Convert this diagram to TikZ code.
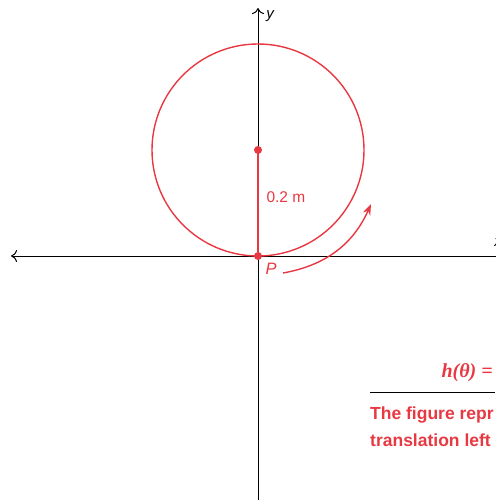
\documentclass[tikz,border=0pt]{standalone}
\usepackage{fontspec}
\setmainfont{Liberation Sans}
\newfontfamily\serifit{Liberation Serif}
\usetikzlibrary{arrows.meta,positioning}
\definecolor{wheelred}{RGB}{232,56,66}

\begin{document}
\begin{tikzpicture}[x=1pt,y=-1pt,
    axis/.style={black,line width=1pt,-{To[length=6pt,width=12pt]}},
    dot/.style={circle,fill=wheelred,inner sep=0pt,minimum size=8pt}]
    \useasboundingbox (0,0) rectangle (495,502);

    % Axes
    \coordinate (O) at (258,256);
    \coordinate (xl) at (11,256);
    \coordinate (xr) at (500,256);
    \coordinate (yt) at (258,8);
    \coordinate (yb) at (258,500);
    \draw[axis] (xr) -- (xl);
    \draw[axis] (yb) -- (yt);
    \node[font=\itshape\fontsize{15}{15}\selectfont] (ylab) at (270,16) {y};
    \node[font=\itshape\fontsize{15}{15}\selectfont] (xlab) at (498,243) {x};

    % Wheel
    \node[dot] (C) at (258,150) {};
    \node[dot] (P) at (O) {};
    \draw[wheelred,line width=1.4pt] (258,150) circle (106);
    \draw[wheelred,line width=1.4pt] (C) -- (P);
    \node[wheelred,anchor=base west,font=\fontsize{15.5}{15.5}\selectfont] (r) at (263,203) {0.2 m};
    \node[wheelred,anchor=base west,font=\itshape\fontsize{16.5}{16.5}\selectfont] (Plab) at (262,274) {P};

    % Rotation arrow
    \coordinate (rs) at (283,273);
    \coordinate (re) at (371,204);
    \draw[wheelred,line width=1.4pt,-{Stealth[length=11pt,width=8pt]}] (rs) to[bend right=28] (re);

    % Side text (cut off)
    \node[wheelred,anchor=base west,font=\serifit\bfseries\itshape\fontsize{20}{20}\selectfont] (h) at (438,377) {h(θ) =};
    \coordinate (ls) at (370,392);
    \coordinate (le) at (495,392);
    \draw[black,line width=1pt] (ls) -- (le);
    \node[wheelred,anchor=base west,inner sep=0pt,font=\bfseries\fontsize{17.5}{17.5}\selectfont] (t1) at (370,419) {The figure repr};
    \node[wheelred,anchor=base west,inner sep=0pt,font=\bfseries\fontsize{17.5}{17.5}\selectfont] (t2) at (370,446) {translation left};
\end{tikzpicture}
\end{document}
